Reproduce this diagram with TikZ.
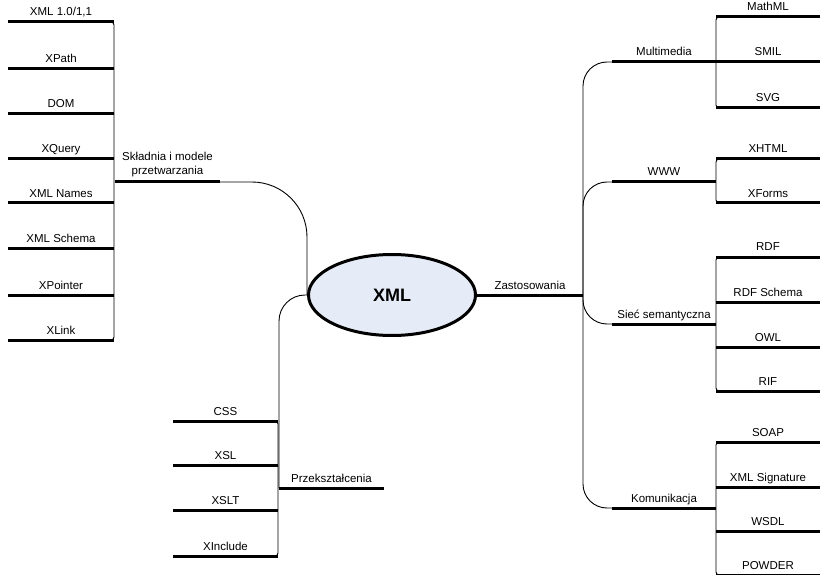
\documentclass[tikz,border=0pt]{standalone}
\usepackage{fontspec}
\setmainfont{Liberation Sans}
\usetikzlibrary{shapes.geometric}
\definecolor{xmlfill}{RGB}{230,236,247}

\begin{document}
\begin{tikzpicture}[x=1pt, y=-1pt,
    root/.style={ellipse, draw, line width=3pt, fill=xmlfill, minimum width=167pt, minimum height=81pt, inner sep=0pt, font=\fontsize{18}{20}\selectfont\bfseries},
    branch/.style={line width=3pt},
    conn/.style={line width=0.9pt},
    lbl/.style={anchor=base, inner sep=0pt, yshift=6pt, font=\fontsize{11.5}{14}\selectfont}]
    \useasboundingbox (0,0) rectangle (820,575);

    % Central topic
    \node[root] (xml) at (392,295) {XML};

    % Branch to the right
    \coordinate (zast-end) at (583,295);
    \draw[branch] (xml.east) -- (zast-end) node[lbl, midway] (zast) {Zastosowania};

    % Right sub-branches
    \foreach \name/\y/\txt in {mm/62/Multimedia, www/182/WWW, sem/324/Sieć semantyczna, kom/508/Komunikacja} {
        \coordinate (\name-a) at (612,\y);
        \coordinate (\name-b) at (716,\y);
        \draw[branch] (\name-a) -- (\name-b) node[lbl, midway] (\name) {\txt};
        \draw[conn, rounded corners=24pt] (zast-end) |- (\name-a);
    }

    % Right leaves
    \foreach \name/\y/\txt in {mathml/17/MathML, smil/62/SMIL, svg/108/SVG, xhtml/159/XHTML, xforms/203/XForms,
            rdf/257/RDF, rdfs/302/RDF Schema, owl/347/OWL, rif/391/RIF,
            soap/442/SOAP, xmlsig/487/XML Signature, wsdl/531/WSDL, powder/575/POWDER} {
        \coordinate (\name-a) at (716,\y);
        \coordinate (\name-b) at (820,\y);
        \draw[branch] (\name-a) -- (\name-b) node[lbl, midway] (\name) {\txt};
    }
    \draw[conn, rounded corners=3pt] (mathml-b) -- (mathml-a) |- (svg-b);
    \draw[conn, rounded corners=3pt] (xhtml-b) -- (xhtml-a) |- (xforms-b);
    \draw[conn, rounded corners=3pt] (rdf-b) -- (rdf-a) |- (rif-b);
    \draw[conn, rounded corners=3pt] (soap-b) -- (soap-a) |- (powder-b);

    % Left branch: syntax and processing models
    \coordinate (skl-a) at (115,182);
    \coordinate (skl-b) at (220,182);
    \draw[branch] (skl-a) -- (skl-b) node[midway, anchor=south, inner sep=0pt, yshift=3.5pt, align=center, font=\fontsize{11.5}{14}\selectfont] (skl) {Składnia i modele\\przetwarzania};
    \draw[conn, rounded corners=55pt] (skl-b) -| (xml.west);

    \foreach \name/\y/\txt in {xmlv/22/{XML 1.0/1,1}, xpath/69/XPath, dom/114/DOM, xquery/159/XQuery,
            xmlnames/203/XML Names, xmlschema/248/XML Schema, xpointer/295/XPointer, xlink/340/XLink} {
        \coordinate (\name-a) at (8,\y);
        \coordinate (\name-b) at (114,\y);
        \draw[branch] (\name-a) -- (\name-b) node[lbl, midway] (\name) {\txt};
    }
    \draw[conn, rounded corners=3pt] (xmlv-a) -- (xmlv-b) |- (xlink-a);

    % Lower branch: transformations
    \coordinate (prz-a) at (279,488);
    \coordinate (prz-b) at (384,488);
    \draw[branch] (prz-a) -- (prz-b) node[lbl, midway] (prz) {Przekształcenia};
    \draw[conn, rounded corners=26pt] (xml.west) -| (prz-a);

    \foreach \name/\y/\txt in {css/421/CSS, xsl/465/XSL, xslt/510/XSLT, xinclude/556/XInclude} {
        \coordinate (\name-a) at (173,\y);
        \coordinate (\name-b) at (278,\y);
        \draw[branch] (\name-a) -- (\name-b) node[lbl, midway] (\name) {\txt};
    }
    \draw[conn, rounded corners=3pt] (css-a) -- (css-b) |- (xinclude-a);
\end{tikzpicture}
\end{document}
